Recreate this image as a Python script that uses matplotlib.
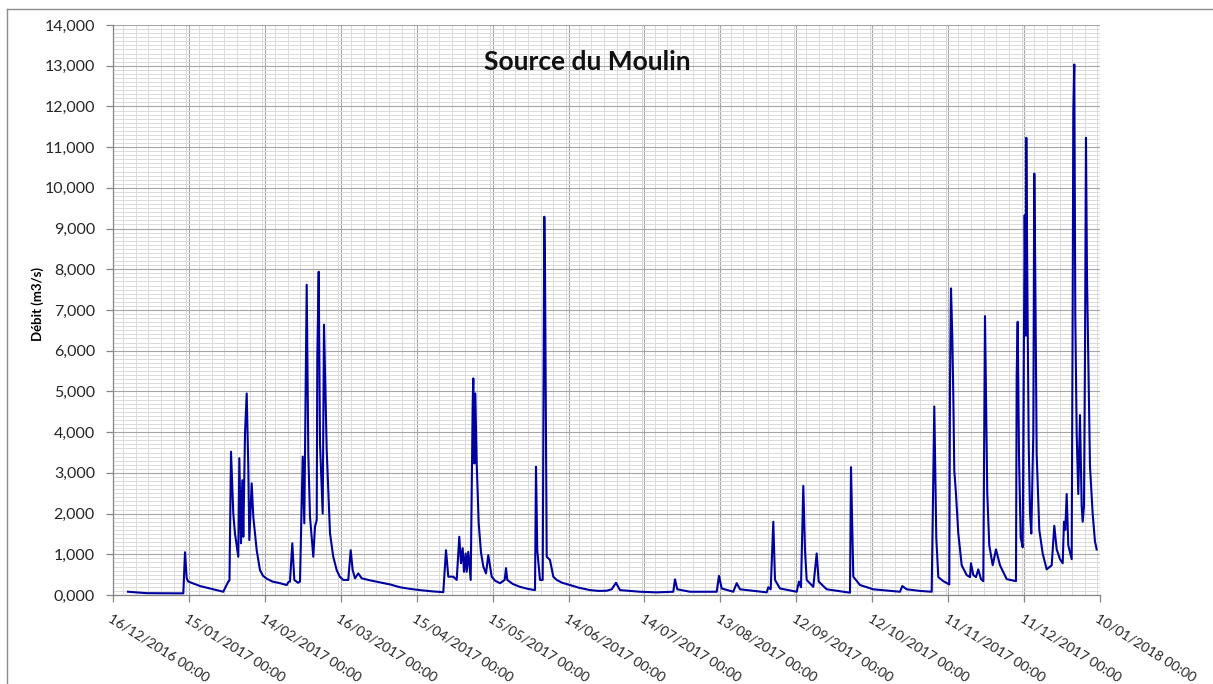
import datetime as dt
import matplotlib
matplotlib.use("Agg")
import matplotlib.pyplot as plt
import matplotlib.dates as mdates
from matplotlib.ticker import MultipleLocator, FixedLocator, FuncFormatter
from matplotlib.lines import Line2D

plt.rcParams['font.family'] = ['Lato', 'DejaVu Sans']

debut = dt.datetime(2016, 12, 16)
fin = dt.datetime(2018, 1, 10)

# jours depuis le 16/12/2016, debit en m3/s
jours = [5.93, 13.32, 27.78, 28.45, 29.12, 29.75, 34.38, 39.63, 43.58,
         # janvier - fevrier
         45.56, 46.03, 46.63, 47.53, 48.21, 49.51, 49.91, 50.58, 51.09, 51.49,
         52.16, 52.83, 53.46, 53.86, 54.80, 55.44, 56.78, 58.08, 59.3, 60.73,
         63.0, 65.99, 68.63, 69.35, 69.94, 70.85, 71.64, 73.10, 73.89,
         # fin fevrier - mars
         74.96, 75.59, 76.54, 77.17, 77.84, 79.14, 79.82, 80.49, 80.73, 81.28,
         81.79, 82.86, 83.37, 84.44, 85.74, 87.0, 88.39, 89.6, 91.00, 92.97,
         93.92, 94.71, 95.62, 96.93, 98.27, 101.55, 105.50, 109.45, 113.40,
         117.4, 121.31, 126.0, 130.51,
         # avril - mai
         131.58, 132.49, 134.46, 135.81, 136.83, 137.51, 138.18, 138.69, 139.36,
         139.76, 140.39, 141.34, 142.13, 142.37, 142.76, 143.16, 143.71, 144.50,
         145.4, 146.32, 147.38, 148.29, 149.64, 151.0, 152.92, 154.77, 155.29,
         155.80, 158.0, 160.82, 164.0, 166.75, 167.14, 167.65, 168.72, 169.79,
         170.42, 170.70, 171.37, 172.67, 173.98, 175.32, 177.5, 180.58, 184.0,
         188.48, 192.0,
         # ete
         195.08, 197.05, 198.75, 200.33, 208.23, 214.83, 221.39, 222.06, 222.97,
         227.99, 238.54, 239.45, 240.52, 245.10, 246.44, 247.75, 258.30, 258.93,
         259.88, 260.91, 261.58, 263.55, 270.15, 271.06, 271.85, 272.76, 273.43,
         274.10, 276.71, 278.05, 278.84, 282.00, 291.21, 291.61, 292.52, 295.16,
         300.42, 310.97, 311.88, 313.61, 318.87, 323.49,
         # automne - hiver
         324.52, 325.31, 326.10, 328.08, 330.45, 330.73, 331.12, 331.63, 332.03,
         332.42, 333.10, 334.01, 335.35, 337.32, 338.63, 339.02, 339.93, 341.00,
         341.91, 342.97, 343.88, 344.55, 344.95, 345.46, 346.25, 347.60, 348.90,
         350.48, 353.13, 356.80, 357.08, 357.47, 357.99, 358.66, 359.45, 359.97,
         360.24, 360.64, 360.88, 361.27, 361.82, 362.34, 362.85, 363.64, 364.04,
         364.43, 364.98, 366.01, 367.35, 368.93, 370.91, 371.94, 372.89, 374.19,
         375.26, 375.77, 376.28, 376.84, 377.47, 378.81, 379.21, 379.45, 379.84,
         380.24, 380.79, 381.42, 382.09, 382.76, 383.16, 383.67, 384.07, 384.46,
         384.86, 385.37, 386.04, 387.11, 388.02, 388.69]

debit = [0.080, 0.045, 0.040, 1.05, 0.41, 0.33, 0.22, 0.14, 0.08,
         0.33, 0.36, 3.52, 2.00, 1.50, 0.94, 3.36, 1.27, 2.82, 1.43,
         3.97, 4.95, 3.15, 1.35, 2.74, 1.92, 1.10, 0.61, 0.47, 0.40,
         0.33, 0.29, 0.245, 0.32, 0.33, 1.27, 0.37, 0.30, 0.33,
         3.40, 1.76, 7.62, 3.48, 1.92, 0.94, 1.68, 1.84, 5.85, 7.94,
         3.73, 2.00, 6.64, 3.56, 1.52, 0.95, 0.61, 0.45, 0.37, 0.37,
         1.10, 0.61, 0.41, 0.53, 0.41, 0.36, 0.31, 0.26, 0.19,
         0.15, 0.12, 0.09, 0.07,
         1.10, 0.45, 0.45, 0.37, 1.43, 0.78, 1.15, 0.57, 1.02,
         0.57, 1.06, 0.37, 4.71, 5.32, 3.23, 4.95, 3.23, 1.76,
         1.05, 0.70, 0.53, 0.98, 0.45, 0.35, 0.29, 0.37, 0.66,
         0.37, 0.27, 0.20, 0.15, 0.12, 3.15, 1.10, 0.37, 0.37,
         9.29, 8.00, 0.94, 0.86, 0.45, 0.37, 0.30, 0.245, 0.18,
         0.12, 0.10,
         0.105, 0.14, 0.30, 0.12, 0.08, 0.065, 0.08, 0.385, 0.14,
         0.08, 0.08, 0.47, 0.16, 0.08, 0.29, 0.14, 0.065, 0.19,
         0.14, 1.80, 0.37, 0.16, 0.08, 0.33, 0.19, 2.68, 1.10,
         0.37, 0.20, 1.02, 0.33, 0.14, 0.057, 3.14, 0.45, 0.245,
         0.14, 0.08, 0.22, 0.14, 0.10, 0.08,
         4.63, 1.41, 0.44, 0.34, 0.26, 5.20, 7.53, 6.37, 4.91,
         3.06, 2.48, 1.51, 0.73, 0.49, 0.44, 0.78, 0.49, 0.44,
         0.63, 0.39, 0.34, 6.85, 4.91, 2.48, 1.22, 0.73, 1.12,
         0.73, 0.39, 0.34, 5.40, 6.71, 3.45, 1.41, 1.17, 6.85,
         9.33, 6.37, 11.23, 7.83, 3.74, 1.99, 1.51, 3.94, 10.35,
         7.83, 3.45, 1.60, 1.02, 0.63, 0.73, 1.70, 1.12, 0.88,
         0.78, 1.80, 1.60, 2.48, 1.22, 0.88, 7.15, 11.86, 13.03,
         6.85, 3.94, 2.48, 4.42, 2.19, 1.80, 2.19, 5.88, 11.23,
         7.83, 5.88, 3.16, 1.99, 1.31, 1.12]

dates = [debut + dt.timedelta(days=j) for j in jours]
graduations = [debut + dt.timedelta(days=30 * k) for k in range(14)]

fig = plt.figure(figsize=(12.13, 6.84), dpi=100)
ax = fig.add_axes([113 / 1213, 1 - 595 / 684, 987 / 1213, 570 / 684])

ax.plot(dates, debit, color='#0000a0', lw=1.5)

ax.set_xlim(debut, fin)
ax.set_ylim(0, 14)
ax.xaxis.set_major_locator(FixedLocator(mdates.date2num(graduations)))
ax.xaxis.set_minor_locator(MultipleLocator(5))
ax.xaxis.set_major_formatter(mdates.DateFormatter('%d/%m/%Y %H:%M'))
ax.yaxis.set_major_locator(MultipleLocator(1))
ax.yaxis.set_minor_locator(MultipleLocator(0.1))
ax.yaxis.set_major_formatter(FuncFormatter(lambda v, p: f"{v:.3f}".replace('.', ',')))

ax.grid(which='major', color='#a6a6a6', lw=0.8)
ax.grid(which='minor', color='#dadada', lw=0.7)
ax.set_axisbelow(True)

for s in ['top', 'right']:
    ax.spines[s].set_visible(False)
for s in ['left', 'bottom']:
    ax.spines[s].set_color('#868686')
    ax.spines[s].set_linewidth(0.9)

ax.tick_params(axis='both', which='major', color='#868686', length=5, width=0.9,
               labelsize=11.5, labelcolor='#262626')
ax.tick_params(axis='x', labelsize=10, pad=7)
ax.tick_params(axis='both', which='minor', length=0)
ax.tick_params(axis='y', pad=8)
for lab in ax.get_xticklabels():
    lab.set_rotation(-32)
    lab.set_ha('left')
    lab.set_va('top')
    lab.set_rotation_mode('anchor')

ax.set_ylabel('Débit (m3/s)', fontsize=9.5, fontweight='bold')
ax.yaxis.set_label_coords(-0.070, 0.51)
ax.text(0.481, 0.935, 'Source du Moulin', transform=ax.transAxes, ha='center',
        va='center', fontsize=19, fontweight='bold', color='#111111')

# cadre du graphique
fig.add_artist(Line2D([7 / 1213, 1], [1 - 9 / 684] * 2, color='#8c8c8c', lw=1))
fig.add_artist(Line2D([7 / 1213] * 2, [0, 1 - 9 / 684], color='#8c8c8c', lw=1))

fig.savefig('out.png', dpi=100)
